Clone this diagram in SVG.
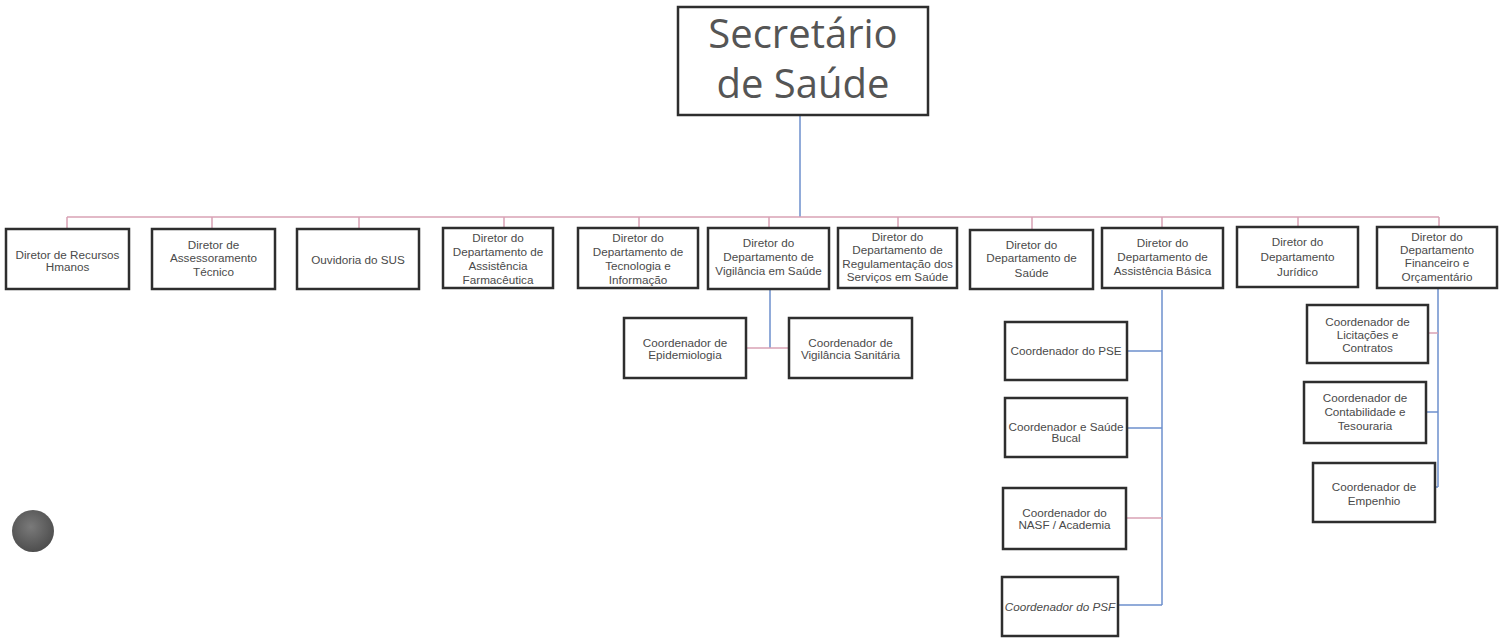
<svg xmlns="http://www.w3.org/2000/svg" width="1501" height="638" viewBox="0 0 1501 638">
<defs>
<style>
.box{fill:#fff;stroke:#2e2e2e;stroke-width:2.5}
.t{font-family:"Liberation Sans",Arial,sans-serif;font-size:11.7px;fill:#4a4a4a;text-anchor:middle}
.ti{font-style:italic}
.big{font-family:"Open Sans","Liberation Sans",sans-serif;font-size:40px;fill:#555;text-anchor:middle}
.pk{stroke:#d9a2b4;stroke-width:1.5;fill:none}
.bl{stroke:#6d8fcc;stroke-width:1.5;fill:none}
</style>
<radialGradient id="ball" cx="0.45" cy="0.4" r="0.6">
<stop offset="0" stop-color="#7a7a7a"/>
<stop offset="1" stop-color="#4e4e4e"/>
</radialGradient>
</defs>
<rect width="1501" height="638" fill="#fff"/>
<g id="connectors">
<line class="bl" x1="800" y1="115" x2="800" y2="217"/>
<line class="pk" x1="67" y1="217" x2="1439" y2="217"/>
<line class="pk" x1="67" y1="217" x2="67" y2="229"/>
<line class="pk" x1="212" y1="217" x2="212" y2="229"/>
<line class="pk" x1="359" y1="217" x2="359" y2="229"/>
<line class="pk" x1="504" y1="217" x2="504" y2="229"/>
<line class="pk" x1="639" y1="217" x2="639" y2="229"/>
<line class="pk" x1="769" y1="217" x2="769" y2="229"/>
<line class="pk" x1="898" y1="217" x2="898" y2="229"/>
<line class="pk" x1="1032" y1="217" x2="1032" y2="229"/>
<line class="pk" x1="1162" y1="217" x2="1162" y2="229"/>
<line class="pk" x1="1298" y1="217" x2="1298" y2="229"/>
<line class="pk" x1="1439" y1="217" x2="1439" y2="229"/>
<line class="bl" x1="770" y1="290" x2="770" y2="348"/>
<line class="pk" x1="747" y1="348" x2="789" y2="348"/>
<line class="bl" x1="1162" y1="290" x2="1162" y2="605"/>
<line class="bl" x1="1127" y1="351" x2="1162" y2="351"/>
<line class="bl" x1="1127" y1="428" x2="1162" y2="428"/>
<line class="pk" x1="1126" y1="518" x2="1162" y2="518"/>
<line class="bl" x1="1118" y1="605" x2="1162" y2="605"/>
<line class="bl" x1="1438" y1="289" x2="1438" y2="487"/>
<line class="pk" x1="1428" y1="333" x2="1438" y2="333"/>
<line class="bl" x1="1426" y1="412" x2="1438" y2="412"/>
<line class="bl" x1="1435" y1="487" x2="1438" y2="487"/>
</g>
<g id="n-secretario">
<rect class="box" x="678" y="7" width="250" height="108"/>
<text class="big" x="803" y="48">Secretário</text>
<text class="big" x="803" y="98">de Saúde</text>
</g>
<g id="n-rh">
<rect class="box" x="6" y="229" width="123" height="60"/>
<text class="t" x="67.5" y="259">Diretor de Recursos</text>
<text class="t" x="67.5" y="271">Hmanos</text>
</g>
<g id="n-assessoramento">
<rect class="box" x="152" y="229" width="123" height="60"/>
<text class="t" x="213.5" y="249">Diretor de</text>
<text class="t" x="213.5" y="262">Assessoramento</text>
<text class="t" x="213.5" y="276">Técnico</text>
</g>
<g id="n-ouvidoria">
<rect class="box" x="297" y="229" width="122" height="60"/>
<text class="t" x="358" y="264">Ouvidoria do SUS</text>
</g>
<g id="n-farmaceutica">
<rect class="box" x="443" y="228" width="110" height="60"/>
<text class="t" x="498" y="242">Diretor do</text>
<text class="t" x="498" y="256">Departamento de</text>
<text class="t" x="498" y="270">Assistência</text>
<text class="t" x="498" y="284">Farmacêutica</text>
</g>
<g id="n-tecnologia">
<rect class="box" x="578" y="228" width="120" height="60"/>
<text class="t" x="638" y="242">Diretor do</text>
<text class="t" x="638" y="256">Departamento de</text>
<text class="t" x="638" y="270">Tecnologia e</text>
<text class="t" x="638" y="284">Informação</text>
</g>
<g id="n-vigilancia">
<rect class="box" x="708" y="228" width="121" height="61"/>
<text class="t" x="768.5" y="247">Diretor do</text>
<text class="t" x="768.5" y="261">Departamento de</text>
<text class="t" x="768.5" y="275">Vigilância em Saúde</text>
</g>
<g id="n-regulamentacao">
<rect class="box" x="838" y="228" width="119" height="60"/>
<text class="t" x="897.5" y="241">Diretor do</text>
<text class="t" x="897.5" y="254">Departamento de</text>
<text class="t" x="897.5" y="268">Regulamentação dos</text>
<text class="t" x="897.5" y="281">Serviços em Saúde</text>
</g>
<g id="n-saude">
<rect class="box" x="970" y="230" width="123" height="59"/>
<text class="t" x="1031.5" y="249">Diretor do</text>
<text class="t" x="1031.5" y="262">Departamento de</text>
<text class="t" x="1031.5" y="277">Saúde</text>
</g>
<g id="n-basica">
<rect class="box" x="1102" y="228" width="121" height="60"/>
<text class="t" x="1162.5" y="247">Diretor do</text>
<text class="t" x="1162.5" y="261">Departamento de</text>
<text class="t" x="1162.5" y="275">Assistência Básica</text>
</g>
<g id="n-juridico">
<rect class="box" x="1237" y="227" width="121" height="60"/>
<text class="t" x="1297.5" y="246">Diretor do</text>
<text class="t" x="1297.5" y="261">Departamento</text>
<text class="t" x="1297.5" y="276">Jurídico</text>
</g>
<g id="n-financeiro">
<rect class="box" x="1377" y="227" width="120" height="61"/>
<text class="t" x="1437" y="241">Diretor do</text>
<text class="t" x="1437" y="254">Departamento</text>
<text class="t" x="1437" y="267">Financeiro e</text>
<text class="t" x="1437" y="281">Orçamentário</text>
</g>
<g id="n-epidemiologia">
<rect class="box" x="624" y="318" width="122" height="60"/>
<text class="t" x="685" y="347">Coordenador de</text>
<text class="t" x="685" y="359">Epidemiologia</text>
</g>
<g id="n-vigsanitaria">
<rect class="box" x="789" y="318" width="123" height="60"/>
<text class="t" x="850.5" y="347">Coordenador de</text>
<text class="t" x="850.5" y="359">Vigilância Sanitária</text>
</g>
<g id="n-pse">
<rect class="box" x="1005" y="322" width="122" height="58"/>
<text class="t" x="1066" y="355">Coordenador do PSE</text>
</g>
<g id="n-bucal">
<rect class="box" x="1005" y="398" width="122" height="59"/>
<text class="t" x="1066" y="431">Coordenador e Saúde</text>
<text class="t" x="1066" y="442">Bucal</text>
</g>
<g id="n-nasf">
<rect class="box" x="1003" y="488" width="123" height="61"/>
<text class="t" x="1064.5" y="517">Coordenador do</text>
<text class="t" x="1064.5" y="529">NASF / Academia</text>
</g>
<g id="n-psf">
<rect class="box" x="1002" y="577" width="116" height="59"/>
<text class="t ti" x="1060" y="611">Coordenador do PSF</text>
</g>
<g id="n-licitacoes">
<rect class="box" x="1307" y="305" width="121" height="58"/>
<text class="t" x="1367.5" y="326">Coordenador de</text>
<text class="t" x="1367.5" y="339">Licitações e</text>
<text class="t" x="1367.5" y="352">Contratos</text>
</g>
<g id="n-contabilidade">
<rect class="box" x="1304" y="382" width="122" height="61"/>
<text class="t" x="1365" y="402">Coordenador de</text>
<text class="t" x="1365" y="416">Contabilidade e</text>
<text class="t" x="1365" y="430">Tesouraria</text>
</g>
<g id="n-empenho">
<rect class="box" x="1313" y="463" width="122" height="59"/>
<text class="t" x="1374" y="491">Coordenador de</text>
<text class="t" x="1374" y="505">Empenhio</text>
</g>
<circle cx="33" cy="531" r="21" fill="url(#ball)"/>
</svg>
